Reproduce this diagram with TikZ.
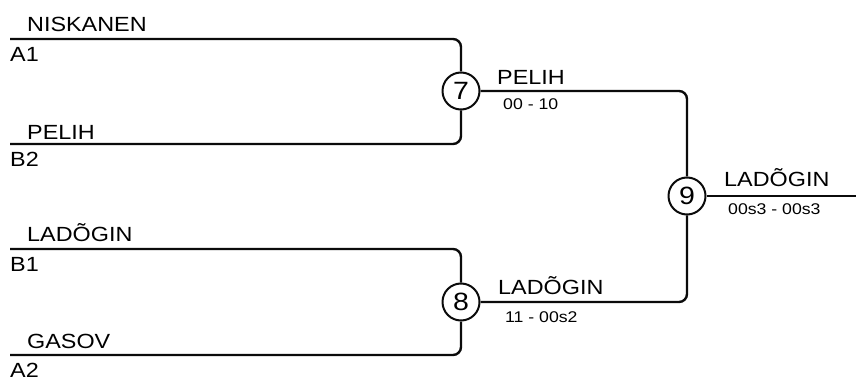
\documentclass[tikz,border=0pt]{standalone}
\usepackage{fontspec}
\setmainfont{Liberation Sans}[FakeStretch=1.14]
\usepackage{tikz}
\usetikzlibrary{positioning}
\definecolor{ink}{HTML}{0B0B0B}

\tikzset{
  wire/.style={draw=ink,line width=2.4pt,rounded corners=8pt},
  match/.style={circle,draw=ink,line width=2pt,minimum size=37pt,inner sep=0pt,
    font=\fontsize{25}{28}\selectfont},
  player/.style={anchor=base west,inner sep=0pt,font=\fontsize{20.5}{24}\selectfont},
  score/.style={anchor=base west,inner sep=0pt,font=\fontsize{15.5}{18}\selectfont},
}

\begin{document}
\begin{tikzpicture}[x=1pt,y=-1pt]
  \useasboundingbox (0,0) rectangle (856,379);
  % entry lines of the first round
  \coordinate (sA1) at (10,39);
  \coordinate (sB2) at (10,144);
  \coordinate (sB1) at (10,249);
  \coordinate (sA2) at (10,355);
  \coordinate (fin) at (856,196);
  % matches
  \node[match] (m7) at (461,91) {7};
  \node[match] (m8) at (461,302) {8};
  \node[match] (m9) at (687,196) {9};
  % bracket
  \draw[wire] (sA1) -| (m7);
  \draw[wire] (sB2) -| (m7);
  \draw[wire] (sB1) -| (m8);
  \draw[wire] (sA2) -| (m8);
  \draw[wire] (m7) -| (m9);
  \draw[wire] (m8) -| (m9);
  \draw[wire] (m9) -- (fin);
  % players and seeds
  \node[player] (nA1) at (27,32) {NISKANEN};
  \node[player] (kA1) at (10,62) {A1};
  \node[player] (nB2) at (27,140) {PELIH};
  \node[player] (kB2) at (10,167) {B2};
  \node[player] (nB1) at (27,242) {LADÕGIN};
  \node[player] (kB1) at (10,272) {B1};
  \node[player] (nA2) at (27,348) {GASOV};
  \node[player] (kA2) at (10,377) {A2};
  % winners and results
  \node[player] (w7) at (497,85) {PELIH};
  \node[score] (r7) at (503,110) {00 - 10};
  \node[player] (w8) at (498,294) {LADÕGIN};
  \node[score] (r8) at (505,322) {11 - 00s2};
  \node[player] (w9) at (724,187) {LADÕGIN};
  \node[score] (r9) at (728,215) {00s3 - 00s3};
\end{tikzpicture}
\end{document}
